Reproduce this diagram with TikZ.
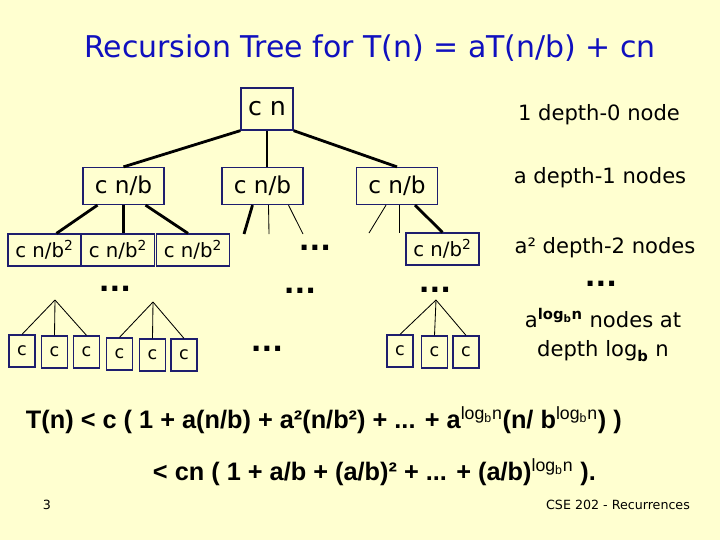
\documentclass[tikz,border=0pt]{standalone}
\usepackage{fontspec}
\setmainfont{DejaVu Sans}
\newfontfamily\sumfont{Liberation Sans}
\usepackage{tikz}
\usetikzlibrary{calc}
\definecolor{slide}{RGB}{255,255,208}
\definecolor{titleblue}{RGB}{16,16,190}
\definecolor{boxline}{RGB}{30,30,110}

\begin{document}
\begin{tikzpicture}[x=0.025cm,y=-0.025cm,
    box/.style={draw=boxline,line width=0.9pt,inner sep=0pt,minimum width=2.025cm,minimum height=0.925cm,font=\fontsize{16.5}{19}\selectfont},
    box2/.style={box,minimum width=1.825cm,minimum height=0.8cm,font=\fontsize{14}{16}\selectfont},
    leaf/.style={box,minimum width=0.65cm,minimum height=0.8cm,font=\fontsize{12.5}{14}\selectfont},
    heavy/.style={line width=2pt},
    light/.style={line width=0.6pt},
    more/.style={font={\fontsize{20}{22}\selectfont\bfseries}},
    note/.style={font=\fontsize{15}{21}\selectfont,align=center},
    sum/.style={anchor=west,font={\sumfont\fontsize{18}{21}\selectfont\bfseries}}]
    \fill[slide] (0,0) rectangle (720,540);
    \node[text=titleblue,font=\fontsize{21.3}{25}\selectfont] (title) at (370,48) {Recursion Tree for T(n) = aT(n/b) + cn};

    % depth 0 and 1
    \node[box,minimum width=1.3cm,minimum height=1.05cm,font=\fontsize{18}{20}\selectfont] (root) at (267,109) {c n};
    \node[box] (l1a) at (123.5,186) {c n/b};
    \node[box] (l1b) at (262.5,186) {c n/b};
    \node[box] (l1c) at (397,186) {c n/b};
    \draw[heavy] (root.south west) -- (l1a.north);
    \draw[heavy] (root.south) -- (root.south |- l1b.north);
    \draw[heavy] (root.south east) -- (l1c.north);

    % depth 2
    \node[box2] (l2a) at (44.5,250) {c n/b\textsuperscript{2}};
    \node[box2] (l2b) at (118,250) {c n/b\textsuperscript{2}};
    \node[box2] (l2c) at (193,250) {c n/b\textsuperscript{2}};
    \node[box2] (l2d) at (442.5,249) {c n/b\textsuperscript{2}};
    \draw[heavy] ($(l1a.south)+(-26,0)$) -- ($(l2a.north)+(12,0)$);
    \draw[heavy] (l1a.south) -- (l1a.south |- l2b.north);
    \draw[heavy] ($(l1a.south)+(22,0)$) -- ($(l2c.north)+(-5,0)$);
    \coordinate (s1) at (244,234);
    \coordinate (s2) at (269,234);
    \coordinate (s3) at (303,234);
    \coordinate (s4) at (369,233);
    \coordinate (s5) at (399,233);
    \draw[heavy] ($(l1b.south)+(-10,0)$) -- (s1);
    \draw[light] ($(l1b.south)+(6,0)$) -- (s2);
    \draw[light] ($(l1b.south)+(26,0)$) -- (s3);
    \draw[light] ($(l1c.south)+(-11,0)$) -- (s4);
    \draw[light] ($(l1c.south)+(2,0)$) -- (s5);
    \draw[heavy] ($(l1c.south)+(18,0)$) -- (l2d.north);

    % dots
    \node[more] (d1) at (315,248) {...};
    \node[more] (d2) at (115,289) {...};
    \node[more] (d3) at (300,291) {...};
    \node[more] (d4) at (435,290) {...};
    \node[more] (d5) at (267,349) {...};

    % leaves
    \coordinate (t1) at (55,300);
    \coordinate (t2) at (153,302);
    \coordinate (t3) at (436,300);
    \node[leaf] (c1) at (22,351) {c};
    \node[leaf] (c2) at (54.5,352) {c};
    \node[leaf] (c3) at (86.5,352) {c};
    \node[leaf] (c4) at (119.5,354) {c};
    \node[leaf] (c5) at (152.5,355) {c};
    \node[leaf] (c6) at (184,355) {c};
    \node[leaf] (c7) at (400,351) {c};
    \node[leaf] (c8) at (434.5,352) {c};
    \node[leaf] (c9) at (466,352) {c};
    \draw[light] (t1) -- (c1.north);
    \draw[light] (t1) -- (c2.north);
    \draw[light] (t1) -- (c3.north);
    \draw[light] (t2) -- (c4.north);
    \draw[light] (t2) -- (c5.north);
    \draw[light] (t2) -- (c6.north);
    \draw[light] (t3) -- (c7.north);
    \draw[light] (t3) -- (c8.north);
    \draw[light] (t3) -- (c9.north);

    % counts per depth
    \node[note] (n0) at (599,115) {1 depth-0 node};
    \node[note] (n1) at (600,178) {a depth-1 nodes};
    \node[note] (n2) at (605,248) {a² depth-2 nodes};
    \node[more] (n3) at (601,284) {...};
    \node[note] (n4) at (603,335) {a\textsuperscript{\bfseries log\textsubscript{b}n} nodes at\\depth log\textsubscript{\bfseries b} n};

    % sum
    \node[sum] (sum1) at (21,420)
        {T(n) < c ( 1 + a(n/b) + a²(n/b²) + ... + a\textsuperscript{\mdseries log\textsubscript{b}n}(n/ b\textsuperscript{\mdseries log\textsubscript{b}n}) )};
    \node[sum] (sum2) at (148,472)
        {< cn ( 1 + a/b + (a/b)² + ... + (a/b)\textsuperscript{\mdseries log\textsubscript{b}n} ).};
    \node[font=\fontsize{9}{11}\selectfont] (page) at (47,505) {3};
    \node[font=\fontsize{9}{11}\selectfont] (foot) at (618,505) {CSE 202 - Recurrences};
\end{tikzpicture}
\end{document}
